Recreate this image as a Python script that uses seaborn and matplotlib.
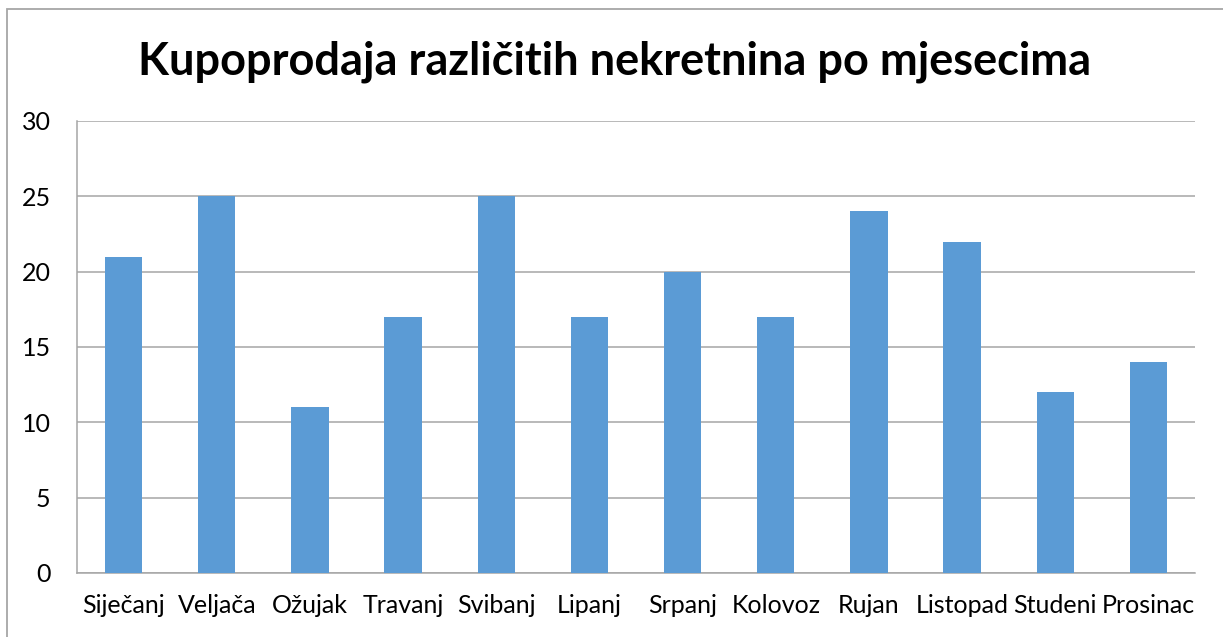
import matplotlib
matplotlib.use("Agg")
import matplotlib.pyplot as plt
import seaborn as sns
import pandas as pd
from matplotlib.patches import Rectangle

months = ["Siječanj", "Veljača", "Ožujak", "Travanj", "Svibanj", "Lipanj",
          "Srpanj", "Kolovoz", "Rujan", "Listopad", "Studeni", "Prosinac"]
values = [21, 25, 11, 17, 25, 17, 20, 17, 24, 22, 12, 14]
yticks = [0, 5, 10, 15, 20, 25, 30]
title = "Kupoprodaja različitih nekretnina po mjesecima"

df = pd.DataFrame({"month": months, "value": values})

sns.set_theme(style="white")
plt.rcParams["font.family"] = ["Lato", "DejaVu Sans"]

W, H = 1223, 637
fig = plt.figure(figsize=(W / 100, H / 100), dpi=100)
ax = fig.add_axes([77 / W, 1 - 573 / H, (1195 - 77) / W, (573 - 121) / H])

sns.barplot(data=df, x="month", y="value", color="#5B9BD5", width=0.4,
            saturation=1, linewidth=0, ax=ax, zorder=3)

ax.set_ylim(0, 30)
ax.set_xlim(-0.5, len(months) - 0.5)
ax.set_yticks(yticks)
ax.set_yticklabels([str(t) for t in yticks], fontsize=18, color="#000000")
ax.set_xticks(range(len(months)))
ax.set_xticklabels(months, fontsize=18, color="#000000")
ax.tick_params(axis="x", length=0, pad=15)
ax.tick_params(axis="y", length=0, pad=19)
ax.set_xlabel("")
ax.set_ylabel("")
ax.grid(axis="y", color="#a6a6a6", linewidth=1.1, zorder=0)
ax.grid(axis="x", visible=False)
for s in ["top", "right"]:
    ax.spines[s].set_visible(False)
ax.spines["left"].set_color("#a6a6a6")
ax.spines["left"].set_linewidth(1.1)
ax.spines["bottom"].set_color("#a6a6a6")
ax.spines["bottom"].set_linewidth(1.1)

fig.text(615 / W, 1 - 62 / H, title, ha="center", va="center",
         fontsize=32.5, fontweight="bold", color="#000000")

fig.patches.append(Rectangle((7 / W, -0.1), 1.2, 1 - 9 / H + 0.1,
                             transform=fig.transFigure, fill=False,
                             edgecolor="#a6a6a6", linewidth=1.3))

fig.savefig("out.png", dpi=100)
